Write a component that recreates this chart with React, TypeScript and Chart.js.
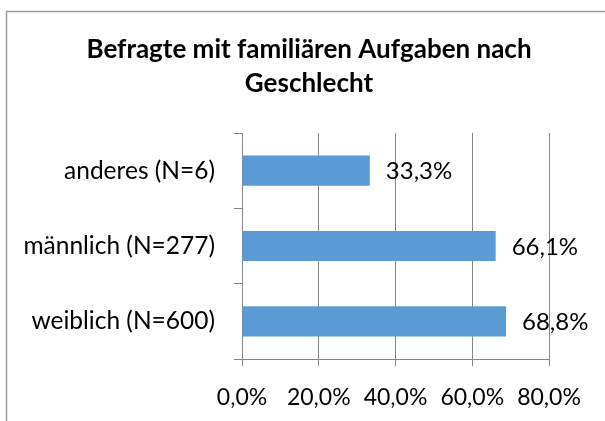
import React, { useEffect, useRef } from "react";
import { Chart, registerables } from "chart.js";

Chart.register(...registerables);

const categories = ["anderes (N=6)", "männlich (N=277)", "weiblich (N=600)"];
const shares = [0.333, 0.661, 0.688];
const titleLines = ["Befragte mit familiären Aufgaben nach", "Geschlecht"];
const xMin = 0;
const xMax = 0.8;
const xStep = 0.2;

const FONT = "Lato";
const GRID = "#878787";

const fmt = (v: number) => (v * 100).toFixed(1).replace(".", ",") + "%";

const frame = {
  id: "frame",
  beforeDraw(chart: any) {
    const { ctx, width, height } = chart;
    ctx.save();
    ctx.fillStyle = "#ffffff";
    ctx.fillRect(0, 0, width, height);
    ctx.strokeStyle = "#9a9a9a";
    ctx.lineWidth = 1.5;
    ctx.beginPath();
    ctx.moveTo(6.5, height);
    ctx.lineTo(6.5, 11.5);
    ctx.lineTo(width, 11.5);
    ctx.stroke();
    ctx.restore();
  },
};

const chartTitle = {
  id: "chartTitle",
  afterDraw(chart: any) {
    const { ctx } = chart;
    ctx.save();
    ctx.font = `bold 26px ${FONT}`;
    ctx.fillStyle = "#000000";
    ctx.textAlign = "center";
    ctx.textBaseline = "middle";
    titleLines.forEach((line, i) => {
      ctx.fillText(line, 309, 50 + i * 34);
    });
    ctx.restore();
  },
};

const valueLabels = {
  id: "valueLabels",
  afterDatasetsDraw(chart: any) {
    const { ctx } = chart;
    const meta = chart.getDatasetMeta(0);
    ctx.save();
    ctx.font = `24px ${FONT}`;
    ctx.fillStyle = "#000000";
    ctx.textAlign = "left";
    ctx.textBaseline = "middle";
    meta.data.forEach((bar: any, i: number) => {
      ctx.fillText(fmt(shares[i]), bar.x + 16, bar.y + 1);
    });
    ctx.restore();
  },
};

export default function App() {
  const ref = useRef<HTMLCanvasElement | null>(null);

  useEffect(() => {
    if (!ref.current) return;
    const chart = new Chart(ref.current, {
      type: "bar",
      data: {
        labels: categories,
        datasets: [
          {
            data: shares,
            backgroundColor: "#5b9bd5",
            borderWidth: 0,
            barPercentage: 0.4,
            categoryPercentage: 1,
          },
        ],
      },
      options: {
        indexAxis: "y",
        responsive: false,
        animation: false,
        layout: { padding: { top: 133, left: 11, right: 56, bottom: 0 } },
        plugins: {
          legend: { display: false },
          tooltip: { enabled: false },
          title: { display: false },
        },
        scales: {
          x: {
            type: "linear",
            min: xMin,
            max: xMax,
            ticks: {
              stepSize: xStep,
              callback: (v: any) => fmt(Number(v)),
              color: "#000000",
              font: { family: FONT, size: 23 },
              padding: 18,
            },
            grid: { color: GRID, tickLength: 7, drawOnChartArea: true },
            border: { color: GRID },
            afterFit: (s: any) => {
              s.height = 62;
            },
          },
          y: {
            ticks: {
              color: "#000000",
              font: { family: FONT, size: 24.5 },
              padding: 19,
            },
            grid: { color: GRID, tickLength: 8, drawOnChartArea: false, offset: true },
            border: { color: GRID },
            afterFit: (s: any) => {
              s.width = 231;
            },
          },
        },
      },
      plugins: [frame, valueLabels, chartTitle],
    });
    return () => chart.destroy();
  }, []);

  return (
    <div style={{ position: "absolute", left: 0, top: 0, width: 605, height: 421 }}>
      <canvas ref={ref} width={605} height={421} style={{ display: "block" }} />
    </div>
  );
}
